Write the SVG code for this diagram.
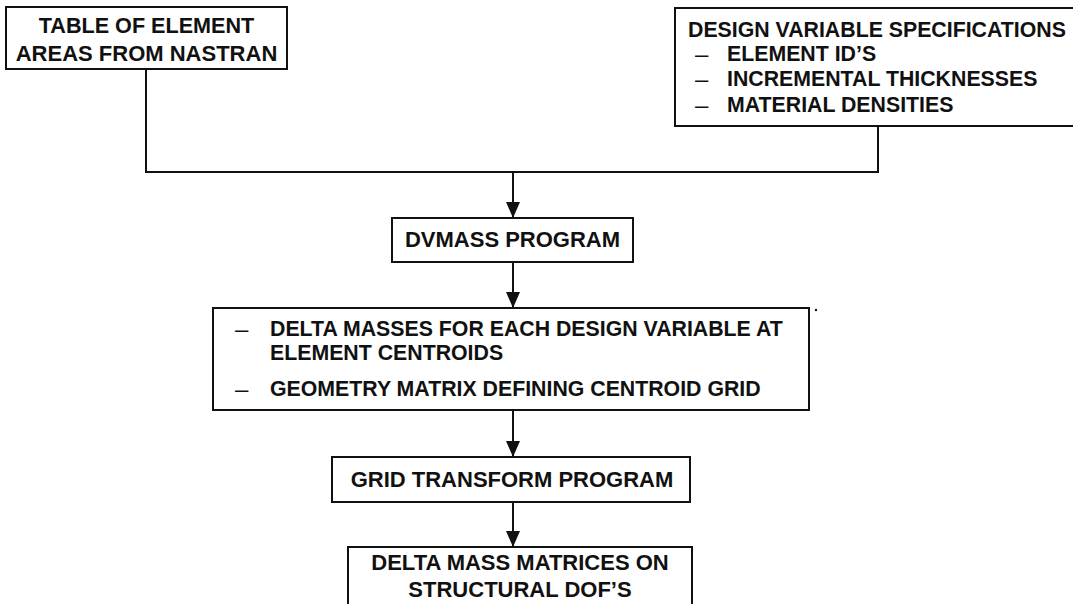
<svg xmlns="http://www.w3.org/2000/svg" width="1073" height="604" viewBox="0 0 1073 604">
<style>
  .box { fill: #fff; stroke: #111; stroke-width: 2; }
  .t { font-family: "Liberation Sans", Arial, sans-serif; font-weight: bold; font-size: 22px; fill: #111; }
  .s { font-size: 21.3px; }
  .m { font-size: 21.6px; }
  .d { font-family: "Liberation Sans", Arial, sans-serif; font-weight: normal; font-size: 24px; fill: #111; }
  .c { text-anchor: middle; }
  .ln { fill: none; stroke: #111; stroke-width: 2; }
</style>
<defs>
  <marker id="ah" markerUnits="userSpaceOnUse" markerWidth="16" markerHeight="16" viewBox="0 0 16 16" refX="16" refY="8" orient="auto">
    <path d="M0,1 L16,8 L0,15 Z" fill="#111"/>
  </marker>
</defs>
<rect width="1073" height="604" fill="#fff"/>
<g id="connectors">
  <polyline class="ln" points="146,69 146,172 878,172 878,126"/>
  <line class="ln" x1="513" y1="172" x2="513" y2="218" marker-end="url(#ah)"/>
  <line class="ln" x1="513" y1="262" x2="513" y2="308" marker-end="url(#ah)"/>
  <line class="ln" x1="513" y1="410" x2="513" y2="457" marker-end="url(#ah)"/>
  <line class="ln" x1="513" y1="502" x2="513" y2="547" marker-end="url(#ah)"/>
</g>
<g id="node-table">
  <rect class="box" x="6" y="7" width="281" height="62"/>
  <text class="t m c" x="146.5" y="33">TABLE OF ELEMENT</text>
  <text class="t c" x="146.5" y="61">AREAS FROM NASTRAN</text>
</g>
<g id="node-design">
  <rect class="box" x="675" y="8" width="410" height="118"/>
  <text class="t s" x="688" y="37">DESIGN VARIABLE SPECIFICATIONS</text>
  <text class="d" x="695" y="62">–</text>
  <text class="t s" x="727" y="61">ELEMENT ID’S</text>
  <text class="d" x="695" y="87">–</text>
  <text class="t s" x="727" y="86">INCREMENTAL THICKNESSES</text>
  <text class="d" x="695" y="113">–</text>
  <text class="t s" x="727" y="112">MATERIAL DENSITIES</text>
</g>
<g id="node-dvmass">
  <rect class="box" x="392" y="218" width="241" height="44"/>
  <text class="t c" x="512.5" y="247">DVMASS PROGRAM</text>
</g>
<g id="node-deltamasses">
  <rect class="box" x="213" y="308" width="596" height="102"/>
  <text class="d" x="235" y="337">–</text>
  <text class="t s" x="270" y="336">DELTA MASSES FOR EACH DESIGN VARIABLE AT</text>
  <text class="t s" x="270" y="360">ELEMENT CENTROIDS</text>
  <text class="d" x="235" y="397">–</text>
  <text class="t s" x="270" y="396">GEOMETRY MATRIX DEFINING CENTROID GRID</text>
</g>
<g id="node-grid">
  <rect class="box" x="332" y="457" width="358" height="45"/>
  <text class="t c" x="512" y="487">GRID TRANSFORM PROGRAM</text>
</g>
<g id="node-deltamatrices">
  <rect class="box" x="348" y="547" width="344" height="70"/>
  <text class="t c" x="520" y="570">DELTA MASS MATRICES ON</text>
  <text class="t c" x="520" y="597">STRUCTURAL DOF’S</text>
</g>
<circle cx="816" cy="310" r="1.2" fill="#111"/>
</svg>
